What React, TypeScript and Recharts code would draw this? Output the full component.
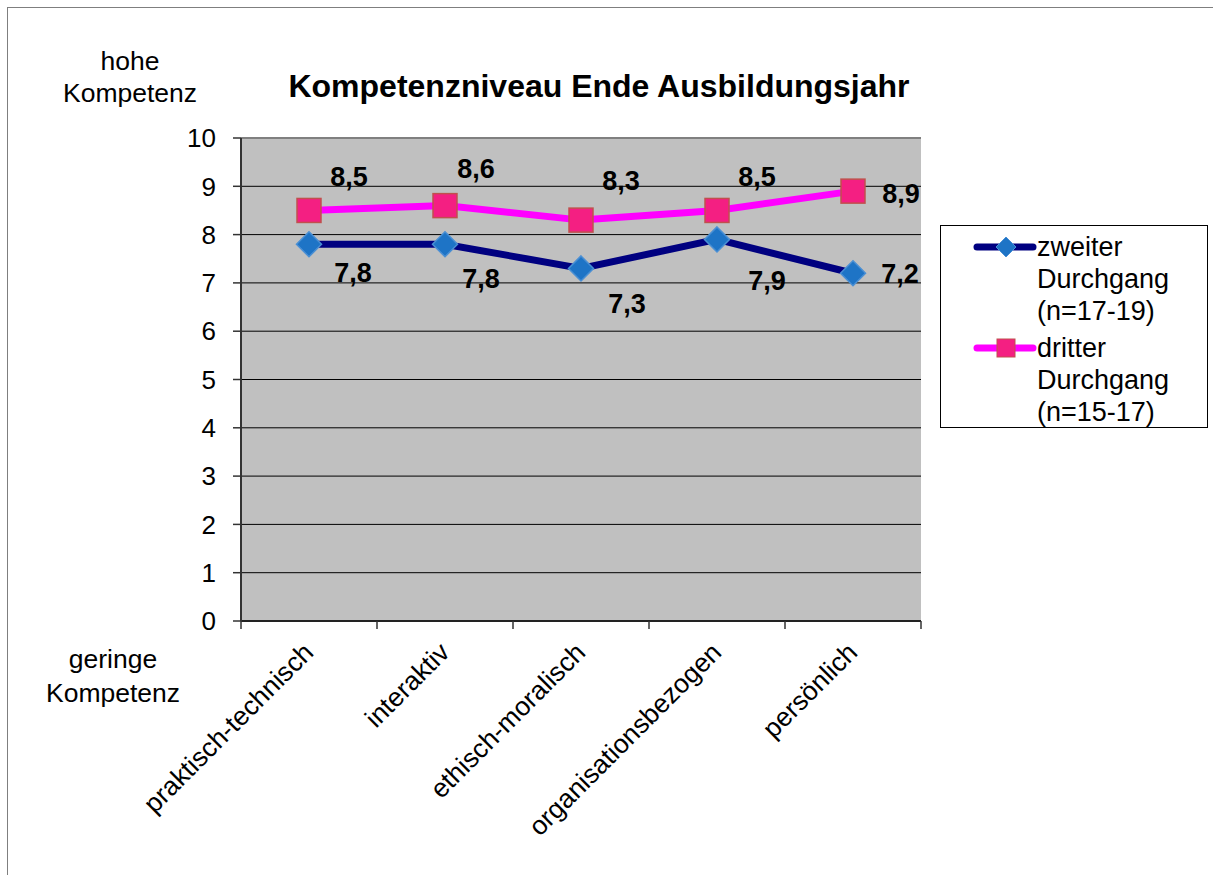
import React from 'react';
import {
  LineChart,
  Line,
  XAxis,
  YAxis,
  CartesianGrid,
  Legend,
  LabelList,
  ReferenceLine,
  Customized,
} from 'recharts';

// ---- data ----
const categories = [
  'praktisch-technisch',
  'interaktiv',
  'ethisch-moralisch',
  'organisationsbezogen',
  'persönlich',
];
const zweiterValues = [7.8, 7.8, 7.3, 7.9, 7.2];
const dritterValues = [8.5, 8.6, 8.3, 8.5, 8.9];
const yTicks = [0, 1, 2, 3, 4, 5, 6, 7, 8, 9, 10];
const zweiterName = 'zweiter Durchgang (n=17-19)';
const dritterName = 'dritter Durchgang (n=15-17)';
const titleText = 'Kompetenzniveau Ende Ausbildungsjahr';
const topAxisNote = ['hohe', 'Kompetenz'];
const bottomAxisNote = ['geringe', 'Kompetenz'];

const data = categories.map((c, i) => ({
  cat: c,
  zweiter: zweiterValues[i],
  dritter: dritterValues[i],
}));

// ---- layout / style ----
const W = 1213;
const H = 875;
const M = { top: 138, right: 292, bottom: 0, left: 0 };
const Y_AXIS_W = 241;
const X_AXIS_H = 254;
const PLOT_W = W - Y_AXIS_W - M.right;
const HALF_BAND = PLOT_W / categories.length / 2;
const FONT = '"Liberation Sans", Arial, sans-serif';
const BLUE_LINE = '#000080';
const PINK_LINE = '#FF00FF';

// label offsets (center of label relative to the point)
const dritterLabelOffsets = [
  [40, -34], [31, -38], [40, -40], [40, -34], [48, 2],
];
const zweiterLabelOffsets = [
  [44, 28], [36, 34], [46, 35], [50, 41], [47, 0],
];

const makeLabel = (offsets: number[][]) => (props: any) => {
  const { x, y, value, index } = props;
  const [dx, dy] = offsets[index] || [0, 0];
  return (
    <text
      x={x + dx}
      y={y + dy + 10}
      textAnchor="middle"
      fontFamily={FONT}
      fontWeight="bold"
      fontSize={27}
      fill="#000"
    >
      {String(value).replace('.', ',')}
    </text>
  );
};

const Diamond = (props: any) => {
  const { cx, cy } = props;
  if (cx == null || cy == null) return null;
  const r = 12.5;
  return (
    <path
      d={`M${cx},${cy - r}L${cx + r},${cy}L${cx},${cy + r}L${cx - r},${cy}Z`}
      fill="#1E74C6"
      stroke="#4A8FD4"
      strokeWidth={1.5}
    />
  );
};

const Square = (props: any) => {
  const { cx, cy } = props;
  if (cx == null || cy == null) return null;
  const s = 24;
  return (
    <rect
      x={cx - s / 2}
      y={cy - s / 2}
      width={s}
      height={s}
      fill="#F41F82"
      stroke="#C0504D"
      strokeWidth={1.5}
    />
  );
};

const XTick = (props: any) => {
  const { x, y, payload, index } = props;
  const last = index === categories.length - 1;
  const ax = x + 6;
  const ay = y + 33;
  return (
    <g>
      <line x1={x - HALF_BAND} y1={y} x2={x - HALF_BAND} y2={y + 8} stroke="#333" strokeWidth={1.5} />
      {last && (
        <line x1={x + HALF_BAND} y1={y} x2={x + HALF_BAND} y2={y + 8} stroke="#333" strokeWidth={1.5} />
      )}
      <text
        x={ax}
        y={ay}
        transform={`rotate(-45 ${ax} ${ay})`}
        textAnchor="end"
        fontFamily={FONT}
        fontSize={26.5}
        fill="#000"
      >
        {payload.value}
      </text>
    </g>
  );
};

const LegendContent = () => {
  const entries = [
    { name: zweiterName, color: BLUE_LINE, marker: 'diamond' },
    { name: dritterName, color: PINK_LINE, marker: 'square' },
  ];
  return (
    <div
      style={{
        width: 268,
        height: 203,
        boxSizing: 'border-box',
        border: '1.5px solid #000',
        background: '#fff',
        fontFamily: FONT,
        fontSize: 27,
        paddingTop: 5,
      }}
    >
      {entries.map((e, i) => (
        <div key={i} style={{ position: 'relative', height: i === 0 ? 101 : 96 }}>
          <svg width={70} height={32} style={{ position: 'absolute', left: 32, top: 0 }}>
            <line x1={4} y1={16} x2={60} y2={16} stroke={e.color} strokeWidth={7} strokeLinecap="round" />
            {e.marker === 'diamond' ? (
              <path d="M33,6L43,16L33,26L23,16Z" fill="#1E74C6" stroke="#4A8FD4" strokeWidth={1} />
            ) : (
              <rect x={24} y={7} width={18} height={18} fill="#F41F82" stroke="#C0504D" strokeWidth={1} />
            )}
          </svg>
          <div style={{ position: 'absolute', left: 96, top: 0, lineHeight: '32px' }}>
            {e.name.split(' ').map((w, j) => (
              <div key={j}>{w}</div>
            ))}
          </div>
        </div>
      ))}
    </div>
  );
};

const Notes = () => (
  <g fontFamily={FONT} fill="#000">
    <text x={599} y={97} textAnchor="middle" fontSize={32} fontWeight="bold">
      {titleText}
    </text>
    <text x={130} y={70} textAnchor="middle" fontSize={26.5}>{topAxisNote[0]}</text>
    <text x={130} y={102} textAnchor="middle" fontSize={26.5}>{topAxisNote[1]}</text>
    <text x={113} y={668} textAnchor="middle" fontSize={26.5}>{bottomAxisNote[0]}</text>
    <text x={113} y={702} textAnchor="middle" fontSize={26.5}>{bottomAxisNote[1]}</text>
  </g>
);

export default function App() {
  return (
    <div style={{ position: 'absolute', left: 0, top: 0, width: W, height: H, background: '#fff' }}>
      <div
        style={{
          position: 'absolute',
          left: 7,
          top: 7,
          right: 0,
          bottom: 0,
          borderLeft: '1px solid #7f7f7f',
          borderTop: '1px solid #7f7f7f',
        }}
      />
      <div style={{ position: 'absolute', left: 0, top: 0 }}>
        <LineChart width={W} height={H} data={data} margin={M}>
          <CartesianGrid
            horizontal
            vertical={false}
            stroke="#000"
            strokeWidth={1}
            fill="#C0C0C0"
            fillOpacity={1}
          />
          <XAxis
            dataKey="cat"
            type="category"
            scale="band"
            height={X_AXIS_H}
            interval={0}
            tickSize={0}
            tickMargin={0}
            tickLine={false}
            axisLine={{ stroke: '#222', strokeWidth: 2 }}
            tick={<XTick />}
            padding={{ left: 0, right: 0 }}
          />
          <YAxis
            domain={[0, 10]}
            ticks={yTicks}
            width={Y_AXIS_W}
            interval={0}
            tickSize={8}
            tickMargin={17}
            tickLine={{ stroke: '#333', strokeWidth: 1.5 }}
            axisLine={{ stroke: '#333', strokeWidth: 2 }}
            tick={{ fontFamily: FONT, fontSize: 26, fill: '#000' }}
          />
          <YAxis
            yAxisId="frame"
            orientation="right"
            domain={[0, 10]}
            width={0}
            tick={false}
            tickLine={false}
            axisLine={{ stroke: '#808080', strokeWidth: 3 }}
          />
          <ReferenceLine y={10} stroke="#808080" strokeWidth={2} />
          <Line
            dataKey="zweiter"
            name={zweiterName}
            stroke={BLUE_LINE}
            strokeWidth={7}
            dot={<Diamond />}
            activeDot={false}
            isAnimationActive={false}
          >
            <LabelList dataKey="zweiter" content={makeLabel(zweiterLabelOffsets)} />
          </Line>
          <Line
            dataKey="dritter"
            name={dritterName}
            stroke={PINK_LINE}
            strokeWidth={7}
            dot={<Square />}
            activeDot={false}
            isAnimationActive={false}
          >
            <LabelList dataKey="dritter" content={makeLabel(dritterLabelOffsets)} />
          </Line>
          <Legend
            layout="horizontal"
            align="center"
            verticalAlign="middle"
            content={<LegendContent />}
            wrapperStyle={{ position: 'absolute', left: 940, top: 225, width: 268, height: 203 }}
          />
          <Customized component={<Notes />} />
        </LineChart>
      </div>
    </div>
  );
}
